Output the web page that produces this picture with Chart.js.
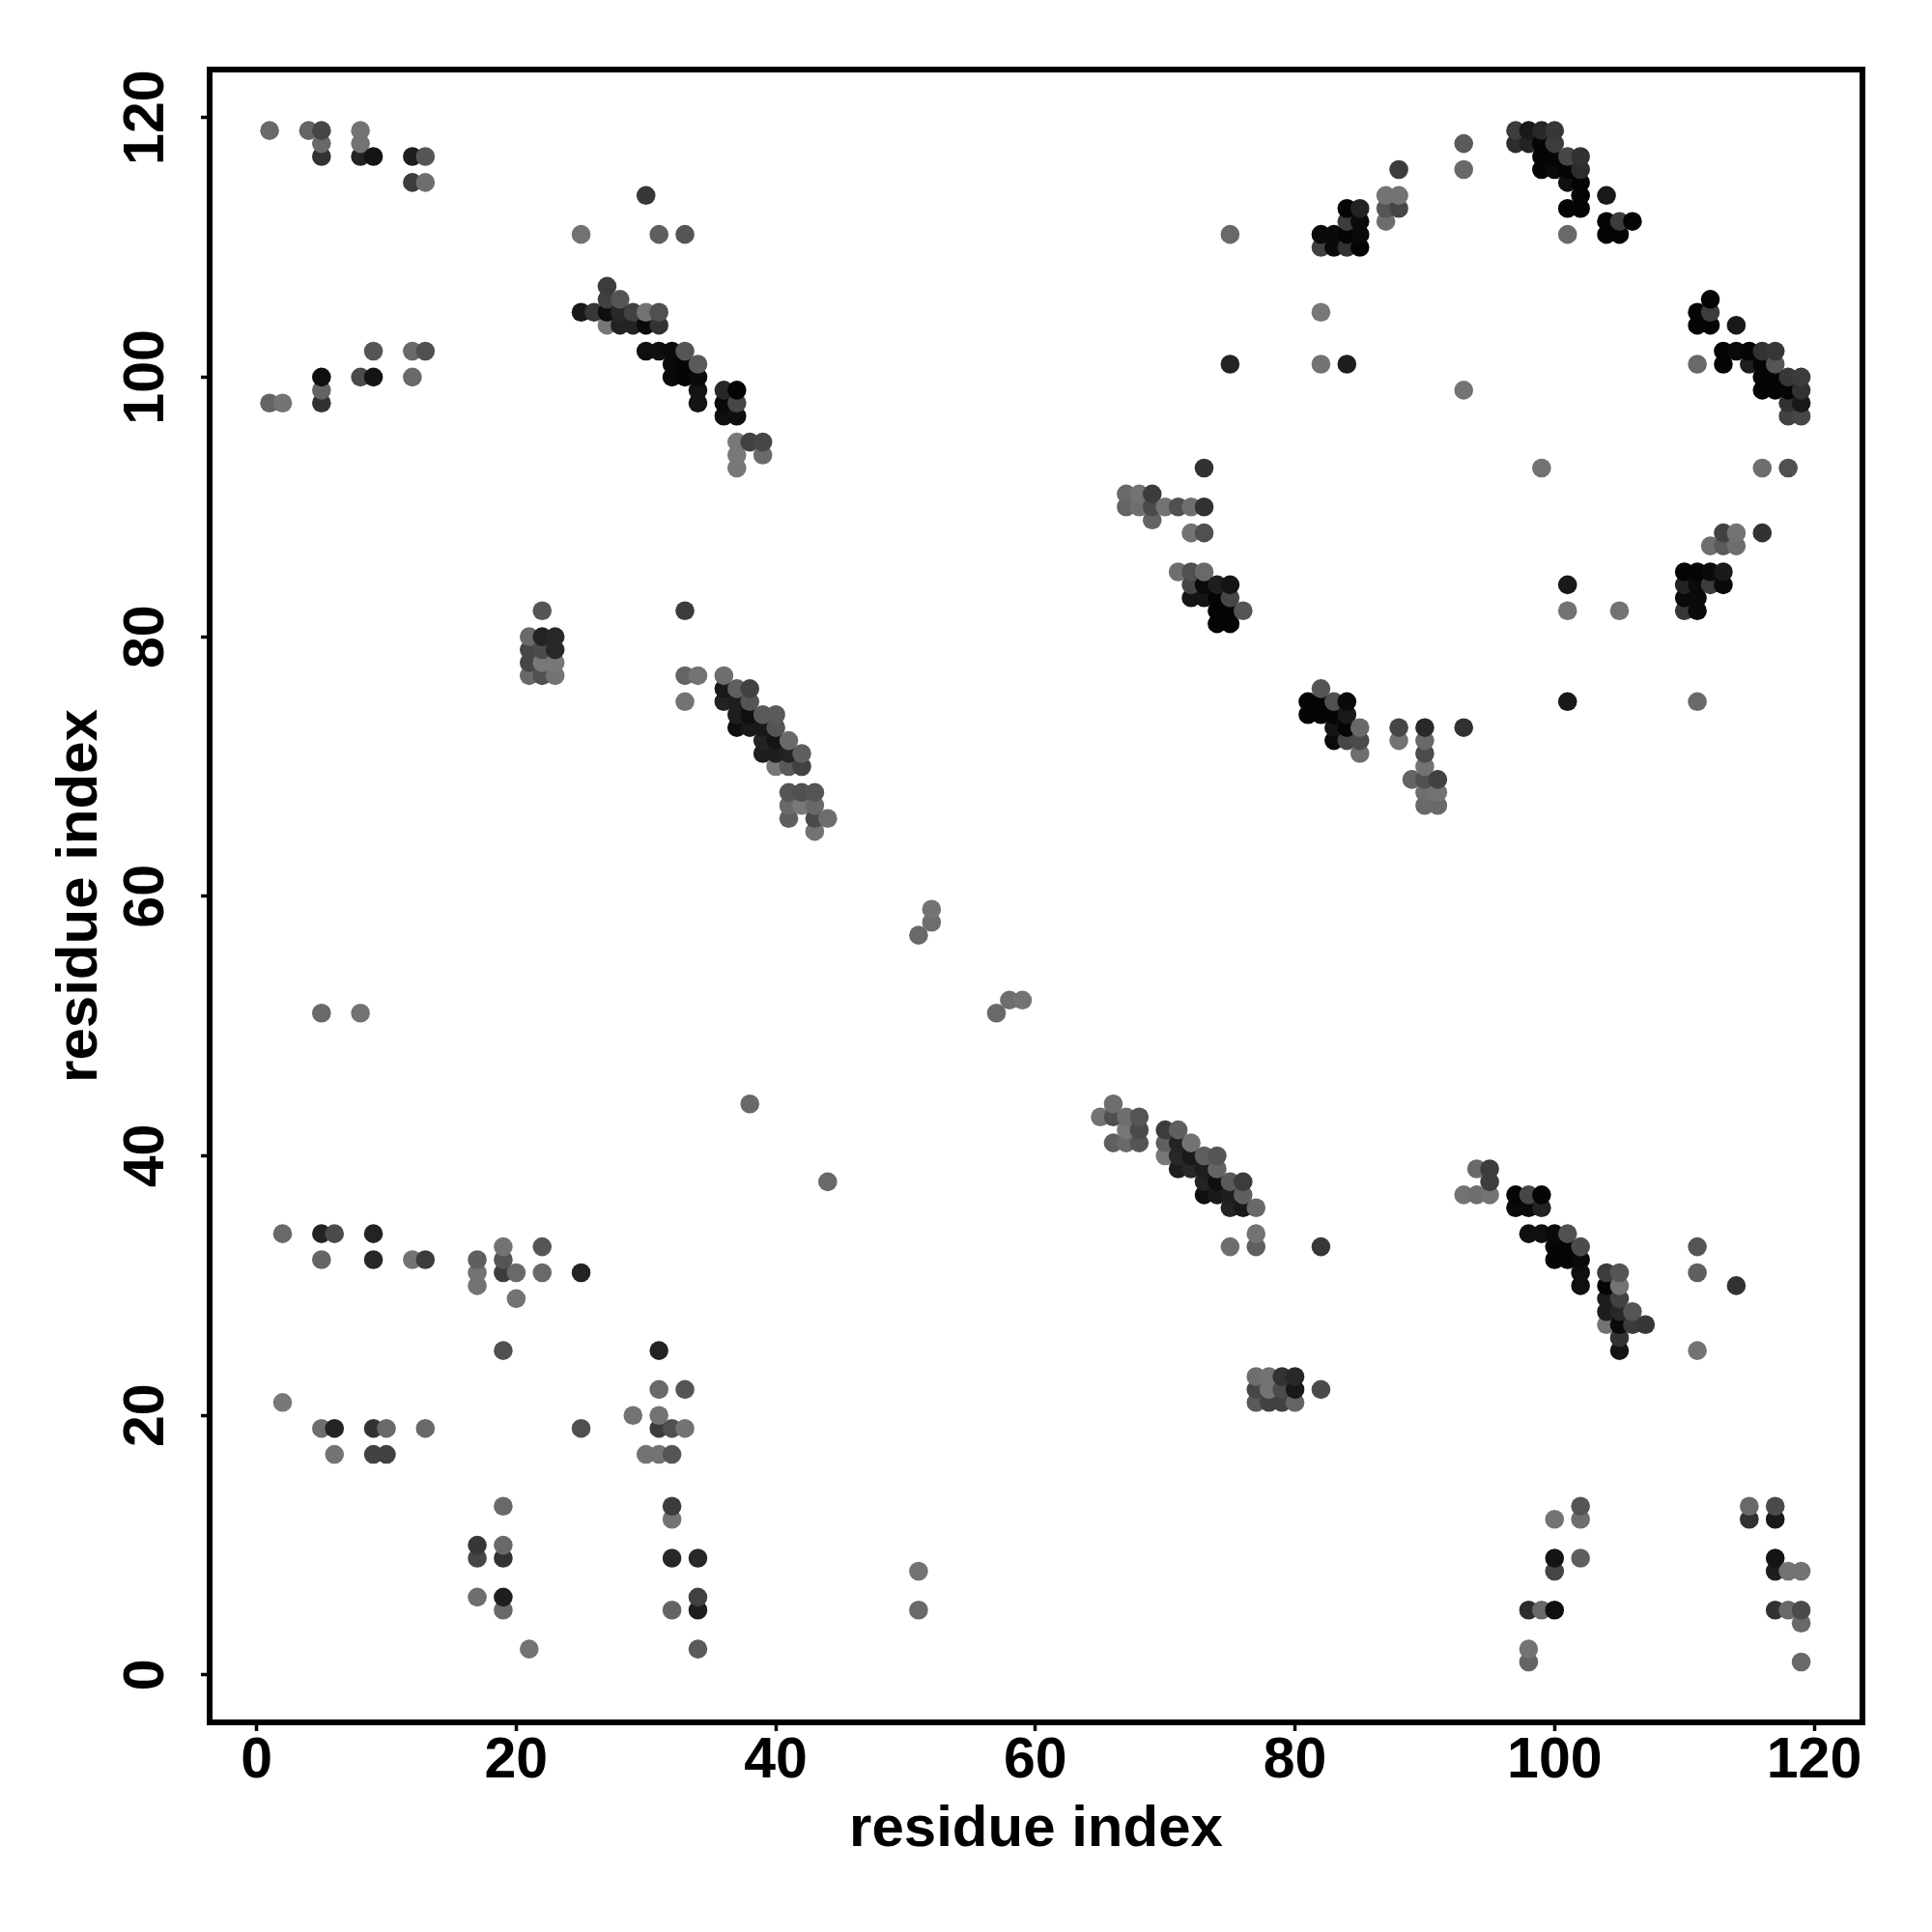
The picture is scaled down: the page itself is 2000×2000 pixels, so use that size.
<!DOCTYPE html>
<html>
<head>
<meta charset="utf-8">
<title>Residue contact map</title>
<script src="https://cdn.jsdelivr.net/npm/chart.js@4"></script>
<style>
  html, body { margin: 0; padding: 0; background: #fff; }
  canvas { display: block; }
</style>
</head>
<body>
<canvas id="contactMap" width="2000" height="2000"></canvas>
<script>
// --- DATA: [residue x, residue y, grey level] ---
const tickValues = [0, 20, 40, 60, 80, 100, 120];
const axisLabel = 'residue index';

const topLeft = [
  [1,119,105],[4,119,100],[5,119,70],[5,118,105],[5,117,50],[8,119,115],[8,118,115],[8,117,35],[9,117,20],
  [12,117,30],[13,117,85],[12,115,60],[13,115,110],[1,98,100],[2,98,115],[5,100,15],[5,99,100],[5,98,50],
  [9,102,85],[8,100,75],[9,100,20],[12,102,105],[13,102,80],[12,100,105]
];
const upperStrand = [
  [30,114,55],[25,111,115],[31,111,95],[33,111,85],[27,107,60],[27,106,65],[28,106,85],
  [25,105,25],[26,105,55],[27,105,15],[28,105,40],[29,105,65],[30,105,115],[31,105,80],
  [27,104,120],[28,104,35],[29,104,35],[30,104,10],[31,104,50],
  [30,102,15],[31,102,15],[32,102,10],[33,102,85],[32,101,10],[33,101,5],[34,101,90],
  [32,100,10],[33,100,5],[34,100,10],[34,99,20],[34,98,20],
  [36,99,40],[37,99,5],[36,98,10],[37,98,70],[36,97,15],[37,97,15],
  [37,95,120],[38,95,65],[39,95,70],[37,94,120],[39,94,105],[37,93,120]
];
const middleStrand = [
  [22,82,85],[21,80,105],[22,80,35],[23,80,40],[21,79,70],[22,79,75],[23,79,40],
  [21,78,70],[22,78,120],[23,78,120],[21,77,105],[22,77,80],[23,77,115],
  [33,82,60],[33,77,100],[34,77,115],[33,75,115],[36,77,110],[36,76,25],[37,76,95],[38,76,65],
  [36,75,35],[37,75,30],[38,75,85],[37,74,30],[38,74,15],[39,74,90],[40,74,90],
  [37,73,15],[38,73,25],[39,73,25],[40,73,85],[39,72,35],[40,72,20],[41,72,105],
  [39,71,30],[40,71,30],[41,71,35],[42,71,95],[40,70,120],[41,70,90],[42,70,65],
  [41,68,85],[42,68,80],[43,68,85],[41,67,105],[42,67,120],[43,67,105],
  [41,66,95],[43,66,75],[44,66,110],[43,65,115]
];
const centre = [
  [51,57,105],[52,58,110],[52,59,115],[57,51,105],[58,52,110],[59,52,115],
  [5,51,105],[8,51,115],[38,44,105],[44,38,105]
];
const lowerLeft = [
  [2,34,105],[5,34,35],[6,34,75],[9,34,35],[5,32,100],[9,32,40],[12,32,115],[13,32,60],
  [17,32,95],[17,31,115],[17,30,115],[19,33,115],[19,32,85],[19,31,60],[20,31,105],[20,29,115],
  [22,33,85],[22,31,105],[25,31,35],[19,25,80],[31,25,35],
  [2,21,120],[5,19,110],[6,19,35],[9,19,50],[10,19,105],[13,19,105],[25,19,80],
  [6,17,115],[9,17,65],[10,17,65],[29,20,115],[31,22,105],[33,22,85],[31,20,115],
  [31,19,60],[32,19,80],[33,19,115],[30,17,115],[31,17,115],[32,17,85],
  [32,13,60],[32,12,115],[19,13,105],[17,10,55],[17,9,70],[19,10,105],[19,9,50],
  [17,6,110],[19,6,30],[19,5,105],[21,2,115],[32,9,40],[34,9,40],[34,6,65],[34,5,30],
  [32,5,100],[34,2,90],[51,8,115],[51,5,105]
];
const topArc = [
  [75,111,105],[75,101,35],[82,105,120],[82,101,115],[84,101,30],[93,99,115],[93,118,90],[93,116,105],[88,116,60],
  [84,113,5],[85,113,35],[84,112,60],[85,112,10],[82,111,10],[83,111,10],[84,111,5],[85,111,10],
  [82,110,65],[83,110,10],[84,110,50],[85,110,5],[87,114,115],[88,114,115],[87,113,85],[88,113,70],[87,112,110],
  [97,119,60],[98,119,25],[99,119,40],[100,119,55],[97,118,45],[98,118,35],[99,118,5],[100,118,60],
  [99,117,5],[100,117,5],[101,117,70],[102,117,50],[99,116,5],[100,116,10],[101,116,5],[102,116,45],
  [101,115,15],[102,115,5],[102,114,5],[104,114,25],[101,113,5],[102,113,5],
  [104,112,5],[105,112,60],[106,112,5],[104,111,5],[105,111,5],[101,111,105]
];
const rightArc = [
  [112,106,5],[111,105,5],[112,105,60],[111,104,5],[112,104,5],[114,104,25],
  [113,102,5],[114,102,10],[115,102,5],[116,102,50],[117,102,55],
  [111,101,105],[113,101,5],[115,101,30],[116,101,5],[117,101,85],
  [116,100,5],[117,100,5],[118,100,55],[119,100,60],[116,99,5],[117,99,5],[118,99,5],[119,99,50],
  [118,98,50],[119,98,25],[118,97,65],[119,97,70],[99,93,115],[116,93,110],[118,93,80],
  [113,88,65],[114,88,115],[116,88,50],[112,87,110],[113,87,90],[114,87,110],
  [110,85,5],[111,85,5],[112,85,10],[113,85,25],[110,84,35],[111,84,10],[112,84,60],[113,84,10],
  [110,83,10],[111,83,10],[110,82,55],[111,82,10],[101,84,25],[101,82,115],[105,82,115],[101,75,25],[111,75,105]
];
const leftArc = [
  [73,93,50],[67,91,105],[68,91,115],[69,91,60],[67,90,100],[68,90,110],[69,90,75],[70,90,115],[71,90,80],[72,90,110],[73,90,50],
  [69,89,100],[72,88,115],[73,88,80],[71,85,110],[72,85,80],[73,85,105],
  [72,84,70],[73,84,10],[74,84,30],[75,84,20],[72,83,20],[73,83,20],[74,83,5],[75,83,70],
  [74,82,5],[75,82,5],[76,82,85],[74,81,5],[75,81,5]
];
const bottomArc = [
  [82,76,85],[81,75,5],[82,75,5],[83,75,80],[84,75,10],[81,74,5],[82,74,5],[83,74,5],[84,74,25],
  [83,73,20],[84,73,5],[85,73,105],[83,72,10],[84,72,70],[85,72,75],[85,71,110],
  [88,73,70],[88,72,115],[90,73,40],[90,72,105],[90,71,75],[90,70,115],[89,69,100],[90,69,80],[91,69,65],
  [90,68,110],[91,68,115],[90,67,105],[91,67,105],[93,73,50]
];
const midBlock = [
  [77,23,110],[78,23,115],[79,23,50],[80,23,40],[77,22,70],[78,22,115],[79,22,75],[80,22,25],[82,22,75],
  [77,21,90],[78,21,65],[79,21,65],[80,21,100],[82,33,55],[75,33,110],[77,33,95],[77,34,115]
];
const lowerStrandA = [
  [66,44,110],[65,43,115],[66,43,80],[67,43,110],[68,43,85],[67,42,120],[68,42,75],[66,41,95],[67,41,105],[68,41,85],
  [70,42,60],[71,42,95],[70,41,95],[71,41,35],[72,41,115],[70,40,120],[71,40,40],[72,40,25],[73,40,95],[74,40,85],
  [71,39,30],[72,39,40],[73,39,30],[74,39,100],[73,38,35],[74,38,15],[75,38,90],[76,38,60],
  [73,37,15],[74,37,25],[75,37,30],[76,37,95],[75,36,35],[76,36,25],[77,36,105]
];
const lowerStrandB = [
  [94,39,105],[95,39,60],[95,38,60],[93,37,115],[94,37,110],[95,37,115],[97,37,5],[98,37,70],[99,37,5],
  [97,36,10],[98,36,10],[99,36,35],[98,34,15],[99,34,15],[100,34,10],[101,34,80],
  [100,33,5],[101,33,5],[102,33,75],[100,32,5],[101,32,5],[102,32,10],[102,31,15],[104,31,60],[105,31,85],
  [102,30,15],[104,30,5],[105,30,115],[104,29,30],[105,29,65],[104,28,30],[105,28,40],[106,28,85],
  [104,27,115],[105,27,10],[106,27,60],[107,27,55],[105,26,50],[105,25,20],
  [111,33,85],[111,31,95],[114,30,50],[111,25,115]
];
const lowerRight = [
  [102,13,85],[102,12,110],[100,12,115],[102,9,95],[100,9,20],[100,8,70],[98,5,45],[99,5,105],[100,5,15],[98,2,115],[98,1,100],
  [115,13,105],[115,12,50],[117,13,75],[117,12,25],[117,9,20],[117,8,30],[118,8,115],[119,8,115],
  [117,5,50],[118,5,105],[119,5,75],[119,4,105],[119,1,105]
];

// later residues sit on top, same as the original plot order
const contacts = [
  ...topLeft, ...upperStrand, ...middleStrand, ...centre, ...lowerLeft, ...topArc, ...rightArc,
  ...leftArc, ...bottomArc, ...midBlock, ...lowerStrandA, ...lowerStrandB, ...lowerRight
].sort((a, b) => a[0] - b[0] || a[1] - b[1]);

// --- CHART ---
const labelFont = 'Liberation Sans';

// box around the plot
const framePlugin = {
  id: 'frame',
  afterDraw(chart) {
    const { ctx, chartArea: a } = chart;
    ctx.save();
    ctx.strokeStyle = '#000';
    ctx.lineWidth = 6;
    ctx.lineJoin = 'miter';
    ctx.strokeRect(a.left, a.top, a.right - a.left, a.bottom - a.top);
    ctx.restore();
  }
};

function axisOptions(extra) {
  return Object.assign({
    type: 'linear',
    afterBuildTicks: scale => { scale.ticks = tickValues.map(v => ({ value: v })); },
    border: { display: false },
    grid: { drawOnChartArea: false, drawTicks: true, tickLength: 9, tickWidth: 3.5, tickColor: '#000' }
  }, extra);
}

new Chart(document.getElementById('contactMap'), {
  type: 'scatter',
  data: {
    datasets: [{
      data: contacts.map(c => ({ x: c[0], y: c[1] })),
      pointRadius: 9.8,
      pointBorderWidth: 0,
      pointBackgroundColor: contacts.map(c => `rgb(${c[2]},${c[2]},${c[2]})`)
    }]
  },
  plugins: [framePlugin],
  options: {
    responsive: false,
    devicePixelRatio: 1,
    animation: false,
    layout: { padding: { top: 72, right: 72, left: 0, bottom: 0 } },
    plugins: { legend: { display: false }, tooltip: { enabled: false } },
    scales: {
      x: axisOptions({
        min: -3.62,
        max: 123.72,
        afterFit: s => { s.height = 217; },
        ticks: { color: '#000', padding: -4, maxRotation: 0, autoSkip: false, font: { family: labelFont, weight: 'bold', size: 59 } },
        title: { display: true, text: axisLabel, color: '#000', font: { family: labelFont, weight: 'bold', size: 60 }, padding: { top: 0, bottom: 70 } }
      }),
      y: axisOptions({
        min: -3.65,
        max: 123.7,
        afterFit: s => { s.width = 217; },
        ticks: { color: '#000', padding: 6, minRotation: 90, maxRotation: 90, crossAlign: 'center', autoSkip: false, font: { family: labelFont, weight: 'bold', size: 59 } },
        title: { display: true, text: axisLabel, color: '#000', font: { family: labelFont, weight: 'bold', size: 60 }, padding: { top: 47, bottom: 0 } }
      })
    }
  }
});
</script>
</body>
</html>
